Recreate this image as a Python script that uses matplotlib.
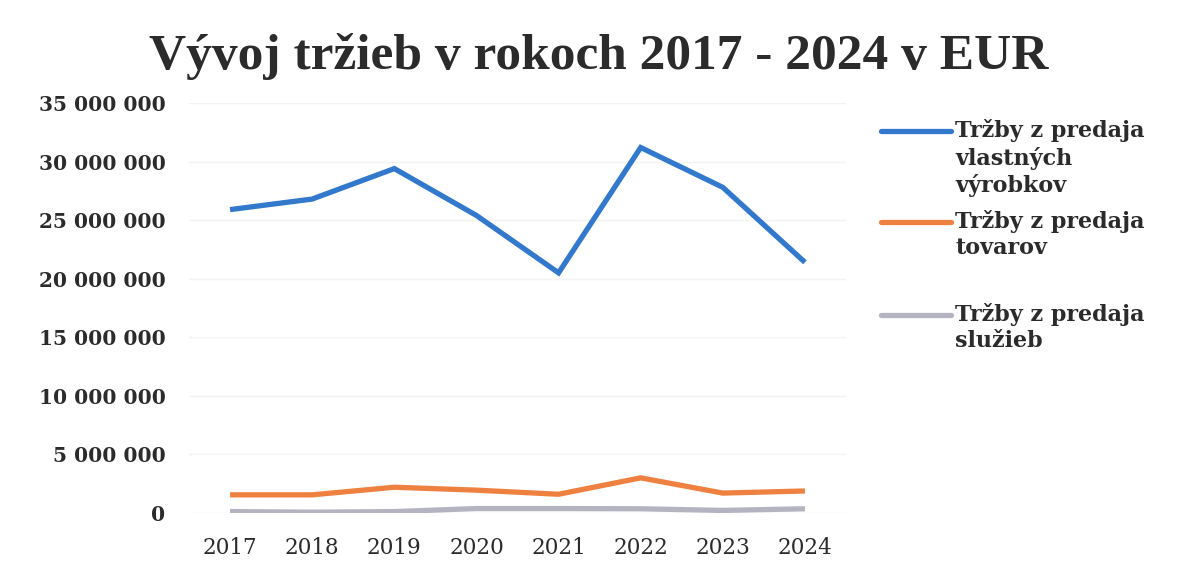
import matplotlib
matplotlib.use("Agg")
import matplotlib.pyplot as plt
from matplotlib.lines import Line2D
from matplotlib.ticker import FuncFormatter

years = ["2017", "2018", "2019", "2020", "2021", "2022", "2023", "2024"]
vlastne_vyrobky = [25.9e6, 26.8e6, 29.4e6, 25.4e6, 20.5e6, 31.2e6, 27.8e6, 21.4e6]
tovary = [1.55e6, 1.55e6, 2.2e6, 1.95e6, 1.6e6, 3.0e6, 1.7e6, 1.88e6]
sluzby = [0.12e6, 0.07e6, 0.12e6, 0.38e6, 0.38e6, 0.36e6, 0.22e6, 0.36e6]
series_labels = ["Tržby z predaja\nvlastných\nvýrobkov", "Tržby z predaja\ntovarov",
                 "Tržby z predaja\nslužieb"]
colors = ["#3278cc", "#ee8140", "#b4b3c0"]

serif_title = ["Liberation Serif", "DejaVu Serif"]
serif_wide = ["DejaVu Serif"]

fig = plt.figure(figsize=(11.79, 5.62), dpi=100)
ax = fig.add_axes([189 / 1179, 1 - 513 / 562, 657 / 1179, 410 / 562])

x = list(range(len(years)))
for vals, c in zip([vlastne_vyrobky, tovary, sluzby], colors):
    ax.plot(x, vals, color=c, lw=3.8, solid_capstyle="butt", solid_joinstyle="miter")

ax.set_xlim(-0.5, len(years) - 0.5)
ax.set_ylim(0, 35e6)
ax.set_yticks([i * 5e6 for i in range(8)])
ax.yaxis.set_major_formatter(FuncFormatter(lambda v, p: f"{int(v):,}".replace(",", " ")))
ax.set_xticks(x)
ax.set_xticklabels(years)
ax.grid(axis="y", color="#f3f3f3", lw=1)
ax.set_axisbelow(True)
for s in ax.spines.values():
    s.set_visible(False)
ax.tick_params(length=0)
ax.tick_params(axis="y", pad=17)
ax.tick_params(axis="x", pad=17)
for lab in ax.get_yticklabels():
    lab.set_fontfamily(serif_wide)
    lab.set_fontweight("bold")
    lab.set_fontsize(14.5)
    lab.set_color("#2b2b2b")
for lab in ax.get_xticklabels():
    lab.set_fontfamily(serif_wide)
    lab.set_fontsize(15.5)
    lab.set_color("#2b2b2b")

fig.text(0.508, 1 - 69 / 562, "Vývoj tržieb v rokoch 2017 - 2024 v EUR", ha="center", va="baseline",
         fontfamily=serif_title, fontweight="bold", fontsize=37, color="#2b2b2b")

# legend drawn manually
leg_y = [131, 222, 315]
for yy, lab, c in zip(leg_y, series_labels, colors):
    fy = 1 - yy / 562
    fig.add_artist(Line2D([881 / 1179, 951 / 1179], [fy, fy], transform=fig.transFigure,
                          color=c, lw=3.8, solid_capstyle="round"))
    fig.text(955 / 1179, 1 - (yy - 12) / 562, lab, ha="left", va="top", fontfamily=serif_wide,
             fontweight="bold", fontsize=16, color="#2b2b2b", linespacing=1.25)

fig.savefig("out.png", dpi=100, facecolor="white")
